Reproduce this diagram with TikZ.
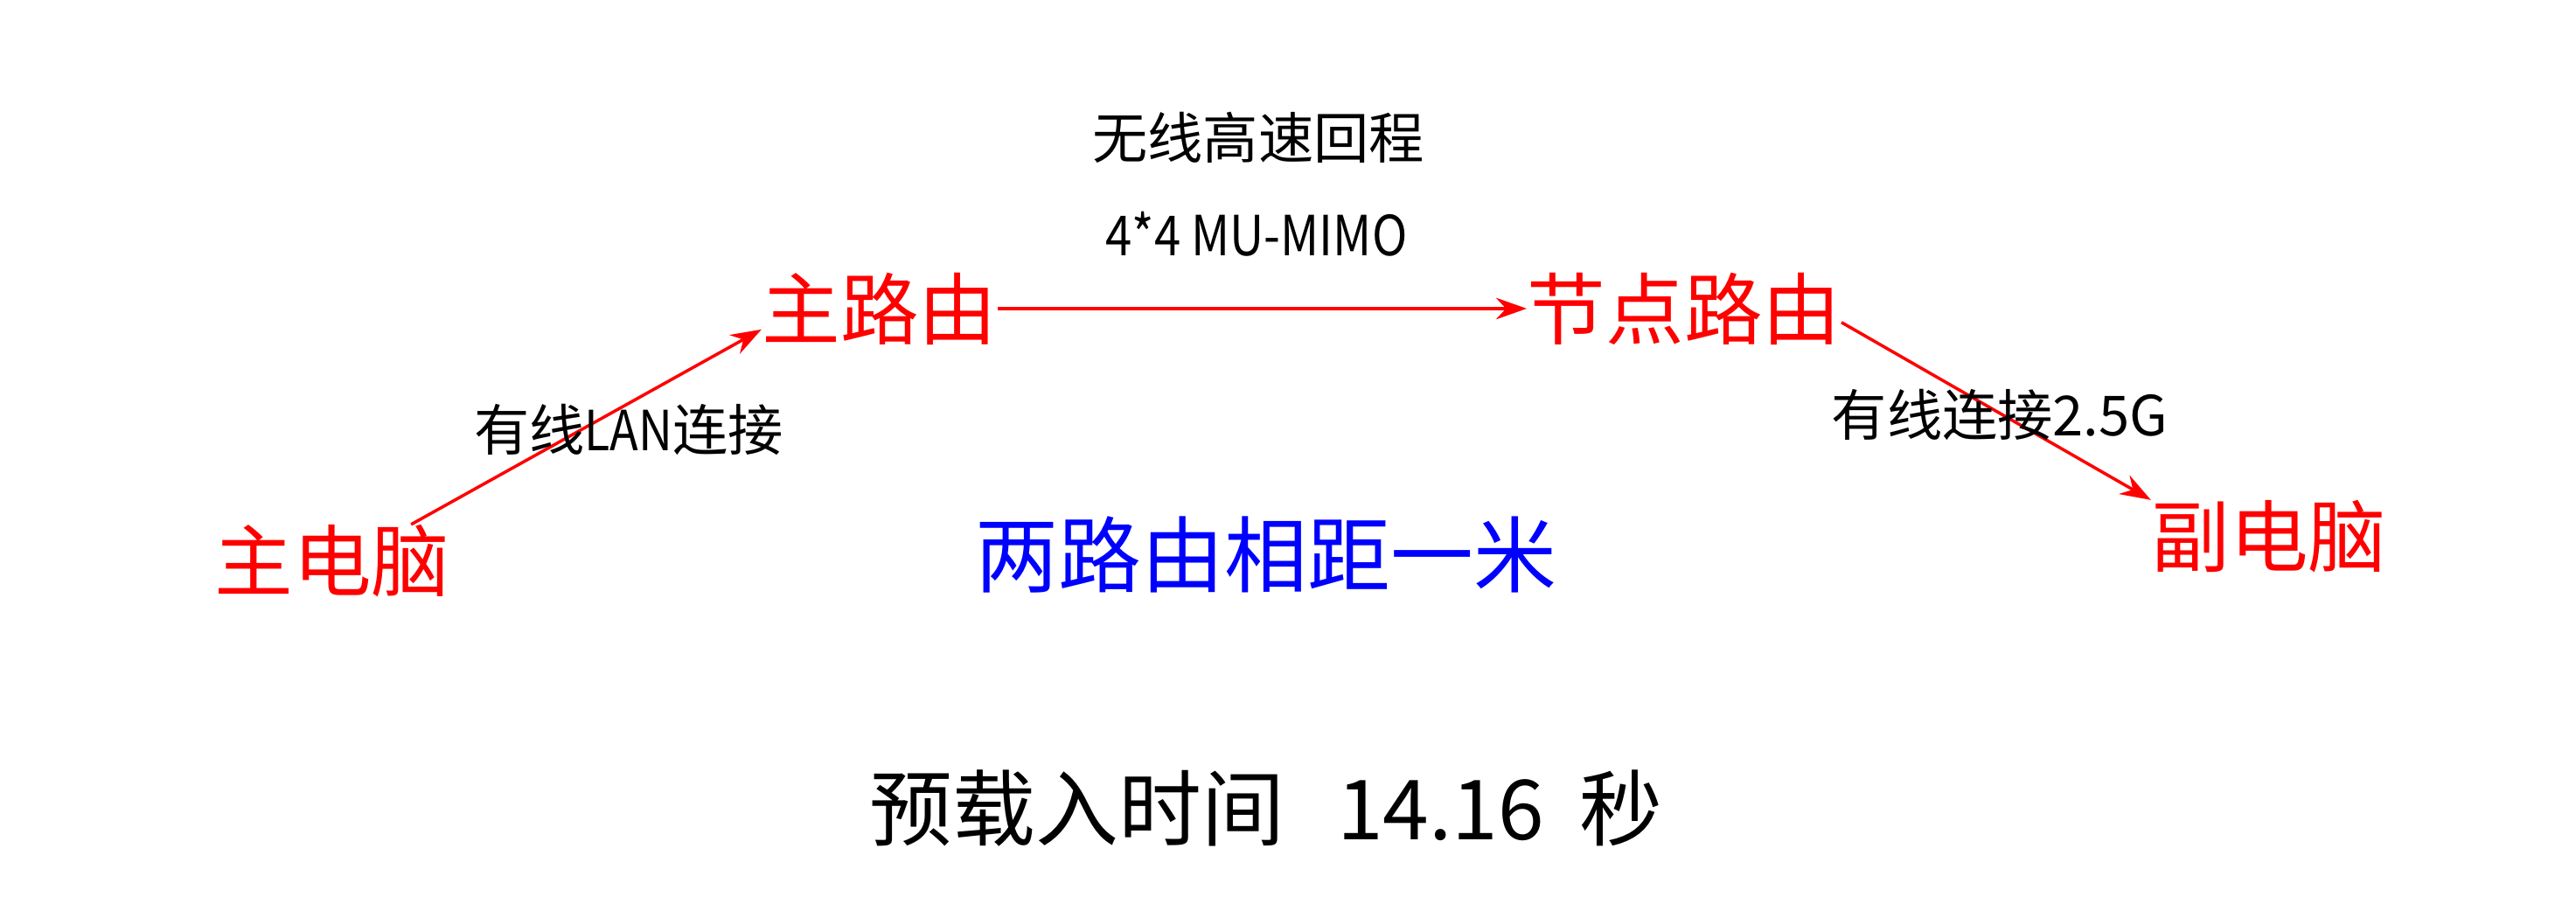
\documentclass[tikz,border=0pt]{standalone}
\usepackage{fontspec}
\newfontfamily\cjk{Noto Sans CJK SC}
\usetikzlibrary{positioning, arrows.meta}
\definecolor{DevRed}{RGB}{255,0,0}
\definecolor{NoteBlue}{RGB}{0,0,255}

\begin{document}
\begin{tikzpicture}
  \tikzstyle{device} = [text=DevRed, inner sep=0pt, font=\cjk\fontsize{25.5}{25.5}\selectfont]
  \tikzstyle{linktext} = [inner sep=0pt, font=\cjk\fontsize{18}{18}\selectfont]
  \tikzstyle{bigtext} = [inner sep=0pt, font=\cjk\fontsize{27}{27}\selectfont]
  \tikzstyle{link} = [draw=DevRed, line width=1pt, -{Stealth[length=10pt, width=7pt]}]

  \useasboundingbox (0,0) rectangle (29.46,10.26);

  % devices
  \node[device] (mainpc) at (3.80, 3.84) {主电脑};
  \node[device] (mainrouter) at (10.06, 6.73) {主路由};
  \node[device] (noderouter) at (19.26, 6.73) {节点路由};
  \node[device] (subpc) at (25.95, 4.12) {副电脑};

  % connections
  \draw[link] ([xshift=-0.45cm]mainpc.north east) -- (mainrouter.190);
  \draw[link] (mainrouter.east) -- (noderouter.west);
  \draw[link] (noderouter.-5) -- (subpc.north west);

  % texts
  \node[linktext] (backhaul) at (14.39, 8.69) {无线高速回程};
  \node[linktext] (mimo) at (14.37, 7.58) {\scalebox{0.86}[1]{4*4 MU-MIMO}};
  \node[linktext] (lanwire) at (7.19, 5.35) {有线\scalebox{0.85}[1]{LAN}连接};
  \node[linktext] (wire25) at (22.87, 5.52) {有线连接2.5G};
  \node[bigtext, text=NoteBlue] (distance) at (14.48, 3.92) {两路由相距一米};
  \node[bigtext] (loadtime) at (14.48, 1.01) {预载入时间\hspace{0.6cm}14.16\hspace{0.4cm}秒};
\end{tikzpicture}
\end{document}
